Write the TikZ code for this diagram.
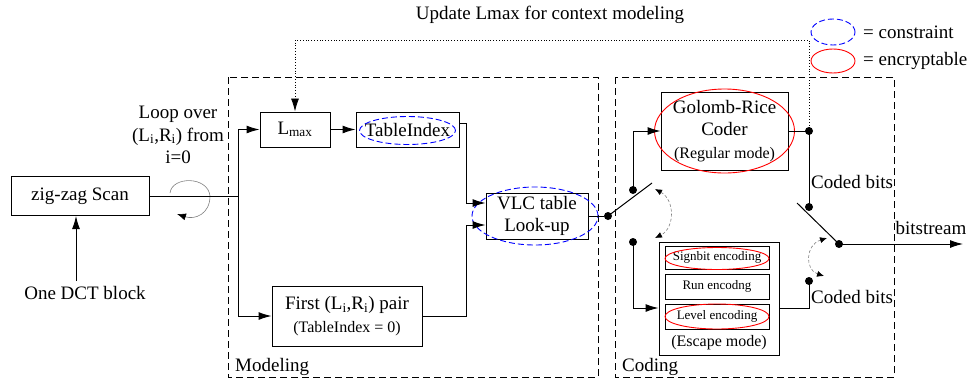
\documentclass[tikz,border=0pt]{standalone}
\usepackage{fontspec}
\setmainfont{Liberation Serif}
\usetikzlibrary{arrows.meta,calc}
\newcommand\fsA{\fontsize{19}{22.5}\selectfont}
\newcommand\fsB{\fontsize{16}{19}\selectfont}
\newcommand\fsC{\fontsize{13}{15}\selectfont}
\begin{document}
\begin{tikzpicture}[x=1pt,y=-1pt,
  every node/.style={font=\fsA, inner sep=0, align=center},
  box/.style={draw, line width=1pt},
  ln/.style={line width=1pt},
  arr/.style={line width=1pt, -{Latex[length=13pt,width=8pt]}},
  dot/.style={circle, fill=black, inner sep=0, minimum size=8pt},
  region/.style={draw, line width=0.9pt, dash pattern=on 7pt off 4pt},
  cons/.style={draw=blue, line width=0.9pt, dash pattern=on 6pt off 3pt},
  encr/.style={draw=red, line width=0.9pt},
  flip/.style={draw=gray, line width=0.6pt, dash pattern=on 3pt off 2pt,
    {Latex[length=7pt,width=6pt,black]}-{Latex[length=7pt,width=6pt,black]}}
]
\useasboundingbox (0,0) rectangle (974,383);

% top label and legend
\node (upd) at (550,15) {Update Lmax for context modeling};
\draw[cons] (833,32) ellipse [x radius=22pt, y radius=13pt];
\node[anchor=west] (lc) at (863,32) {= constraint};
\draw[encr] (833,61) ellipse [x radius=22pt, y radius=12pt];
\node[anchor=west] (le) at (863,61) {= encryptable};

% regions
\draw[region] (228,77) rectangle (598,377);
\node[anchor=base west] (modl) at (235,371) {Modeling};
\draw[region] (615,77) rectangle (894,377);
\node[anchor=base west] (codl) at (622,371) {Coding};

% left part
\node[box, minimum width=138pt, minimum height=39pt] (zig) at (80,196) {zig-zag Scan};
\node (dct) at (85,293) {One DCT block};
\coordinate (dctin) at (76,281);
\draw[arr] (dctin) -- (dctin |- zig.south);
\node (loop) at (178,135) {Loop over\\(L\textsubscript{i},R\textsubscript{i}) from\\i=0};
\draw[gray, line width=0.6pt, -{Latex[length=9pt,width=7pt,black]}]
  (170,193) .. controls (172,176) and (208,176) .. (210,196)
  .. controls (210,214) and (195,220) .. (177,214);
\coordinate (split) at (238,196);
\draw[ln] (zig.east) -- (split);

% modeling
\node[box, minimum width=70pt, minimum height=35pt] (lmax) at (295,129.5) {L\textsubscript{max}};
\node[box, minimum width=103pt, minimum height=35pt] (tidx) at (407.5,129.5) {TableIndex};
\draw[cons] ([yshift=-1pt]tidx.center) ellipse [x radius=48pt, y radius=14pt];
\node[box, minimum width=150pt, minimum height=60pt] (first) at (347,316)
  {First (L\textsubscript{i},R\textsubscript{i}) pair\\{\fsB (TableIndex = 0)}};
\node[box, minimum width=102pt, minimum height=46pt] (vlc) at (537,216) {VLC table\\Look-up};
\draw[cons] ([xshift=-2pt]vlc.center) ellipse [x radius=63pt, y radius=29pt];
\draw[arr] (split) |- (lmax.west);
\draw[arr] (split) |- (first.west);
\draw[arr] (lmax.east) -- (tidx.west);
\draw[arr] ([yshift=6.5pt]tidx.east) -- ++(7,0) |- ([yshift=13pt]vlc.west);
\draw[arr] (first.east) -- ++(44,0) |- ([yshift=-9pt]vlc.west);
\node[dot] (d1) at (608,216) {};
\draw[ln] (vlc.east) -- (d1);

% coding
\node[box, minimum width=127pt, minimum height=78pt] (gr) at (724.5,131)
  {Golomb-Rice\\Coder\\{\fsB (Regular mode)}};
\draw[encr] (gr.center) ellipse [x radius=70pt, y radius=42pt];
\node[dot] (dA) at (633,190) {};
\node[dot] (dB) at (633,242) {};
\coordinate (blade) at (652,183);
\draw[ln] (d1.center) -- (blade);
\draw[arr] (dA.center) |- (gr.west);
\draw[flip] (655,189) .. controls (675,200) and (675,228) .. (655,238);

\node[box, minimum width=120pt, minimum height=113pt] (esc) at (719,298.5) {};
\node[box, minimum width=104pt, minimum height=23pt, font=\fsC] (sign) at (717,257.5) {Signbit encoding};
\node[box, minimum width=104pt, minimum height=25pt, font=\fsC] (run) at (717,286.5) {Run encodng};
\node[box, minimum width=104pt, minimum height=25pt, font=\fsC] (lev) at (717,316.5) {Level encoding};
\node[font=\fsB] (escl) at (719,343) {(Escape mode)};
\draw[encr] ([yshift=-1pt]sign.center) ellipse [x radius=52pt, y radius=11pt];
\draw[encr] (lev.center) ellipse [x radius=52pt, y radius=12.5pt];
\draw[arr] (dB.center) |- ([yshift=-9.5pt]esc.west);

\node[dot] (dC) at (809,281) {};
\draw[ln] ([yshift=-9.5pt]esc.east) -| (dC.center);
\node[anchor=west] (cb2) at (811,297) {Coded bits};

\node[dot] (dD) at (809,131) {};
\node[dot] (dE) at (809,207) {};
\draw[ln] (gr.east) -- (dD.center);
\draw[ln] (dD.center) -- (dE.center);
\node[anchor=west] (cb1) at (811,182) {Coded bits};
\node[dot] (dF) at (839,244) {};
\coordinate (bladeR) at (797,203);
\draw[ln] (bladeR) -- (dF.center);
\coordinate (out) at (963,244);
\draw[arr] (dF.center) -- (out);
\node (bs) at (931,228) {bitstream};
\draw[flip] (827,238) .. controls (805,245) and (805,270) .. (824,276);

% feedback
\coordinate (fb) at (809,40);
\draw[dotted, line width=0.8pt, -{Latex[length=13pt,width=8pt]}] (dD.center) -- (fb) -| (lmax.north);
\end{tikzpicture}
\end{document}
